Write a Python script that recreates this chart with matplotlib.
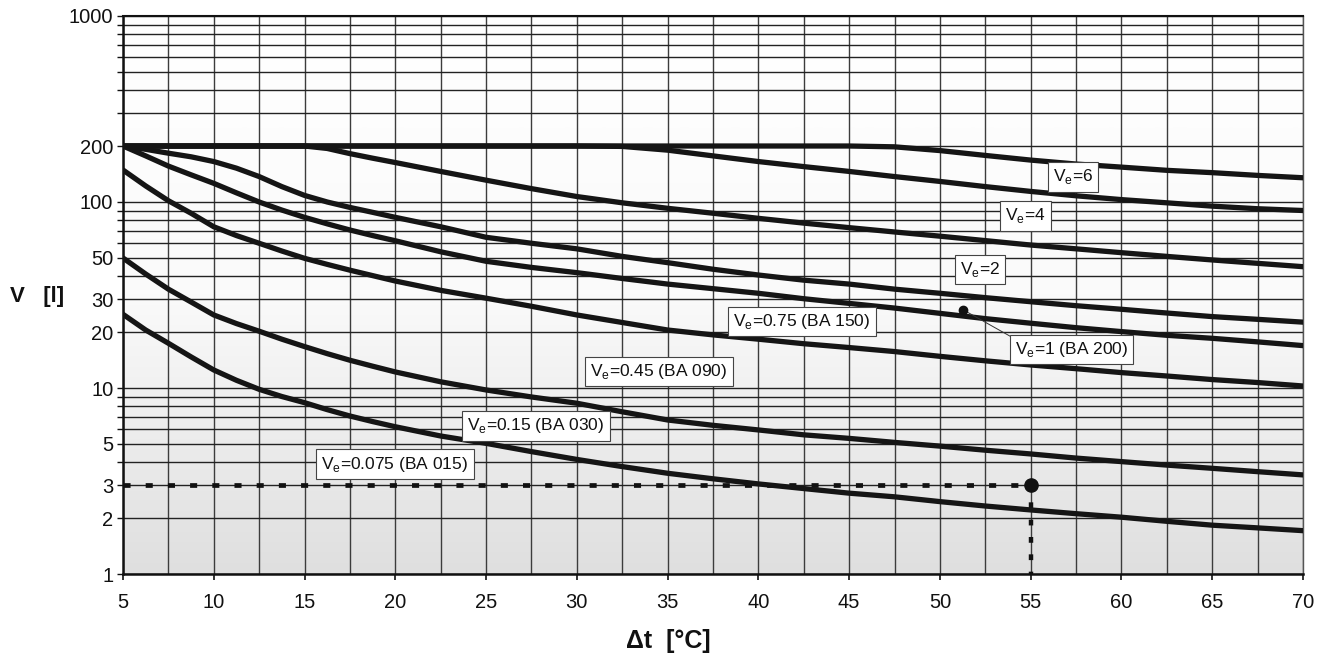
import numpy as np
import matplotlib
matplotlib.use("Agg")
import matplotlib.pyplot as plt
from matplotlib.colors import LinearSegmentedColormap

plt.rcParams['font.family'] = ['Liberation Sans', 'DejaVu Sans']
plt.rcParams['mathtext.fontset'] = 'custom'
plt.rcParams['mathtext.rm'] = 'Liberation Sans'

# ---------------- data ----------------
dt = [5, 6.25, 7.5, 8.75, 10, 11.25, 12.5, 13.75, 15, 16.25, 17.5, 18.75, 20,
      22.5, 25, 27.5, 30, 32.5, 35, 37.5, 40, 42.5, 45, 47.5, 50, 52.5, 55,
      57.5, 60, 62.5, 65, 67.5, 70]

v_e6 = [200, 200, 200, 200, 200, 200, 200, 200, 200, 200, 200, 200, 200,
        200, 200, 200, 200, 200, 200, 200, 200, 200, 200, 198, 189, 178, 168,
        160, 154, 148, 143.8, 139, 135]
v_e4 = [200, 200, 200, 200, 200, 200, 200, 200, 200, 200, 200, 200, 200,
        200, 200, 200, 200, 199, 190, 177, 165, 155, 146, 137, 129, 121, 114,
        108, 103, 99, 95, 92, 90]
v_e2 = [200, 200, 200, 200, 200, 200, 200, 200, 200, 194, 182, 172, 163,
        146, 131, 118, 107, 99, 92.5, 87, 81.7, 77, 72.8, 69, 65.5, 62, 58.7,
        56, 53.4, 51, 48.8, 46.8, 44.9]
v_e1 = [200, 192, 183, 175, 165, 152, 137, 121, 108.5, 100, 93.5, 88, 82.7,
        73.6, 64.6, 60, 56, 51, 47.2, 43.5, 40.5, 38, 36.2, 34, 32.3, 30.6, 29.1,
        27.7, 26.5, 25.3, 24.2, 23.4, 22.6]
v_e075 = [200, 177, 156, 140, 126, 112, 100, 90.5, 82.7, 76.3, 70.7, 66, 61.9,
          54, 48, 44.5, 41.7, 38.8, 36.2, 34.2, 32.3, 30.2, 28.5, 26.9, 25.2, 23.6, 22.3,
          21.1, 20.1, 19.2, 18.5, 17.7, 16.9]
v_e045 = [148.6, 122, 101.6, 87, 73.6, 66, 60, 54.5, 49.8, 46.2, 43, 40.2, 37.6,
          33.5, 30.4, 27.5, 24.7, 22.5, 20.5, 19.3, 18.3, 17.3, 16.5, 15.7, 14.8, 14.0, 13.3,
          12.7, 12.1, 11.6, 11.1, 10.7, 10.25]
v_e015 = [50, 41, 34, 29, 24.7, 22.2, 20.2, 18.3, 16.7, 15.3, 14.1, 13.1, 12.2,
          10.8, 9.76, 8.95, 8.28, 7.45, 6.73, 6.3, 5.95, 5.6, 5.36, 5.1, 4.87, 4.63, 4.42,
          4.2, 4.02, 3.85, 3.70, 3.55, 3.41]
v_e0075 = [24.9, 20.5, 17.4, 14.7, 12.5, 11.0, 9.84, 9.0, 8.34, 7.65, 7.07, 6.6, 6.19,
           5.52, 5.04, 4.55, 4.13, 3.78, 3.48, 3.25, 3.05, 2.88, 2.72, 2.6, 2.45, 2.32, 2.21,
           2.11, 2.02, 1.92, 1.83, 1.77, 1.71]

curve_labels = [r'V$_{\mathregular{e}}$=6', r'V$_{\mathregular{e}}$=4', r'V$_{\mathregular{e}}$=2',
                r'V$_{\mathregular{e}}$=1 (BA 200)', r'V$_{\mathregular{e}}$=0.75 (BA 150)',
                r'V$_{\mathregular{e}}$=0.45 (BA 090)', r'V$_{\mathregular{e}}$=0.15 (BA 030)',
                r'V$_{\mathregular{e}}$=0.075 (BA 015)']
curves = [v_e6, v_e4, v_e2, v_e1, v_e075, v_e045, v_e015, v_e0075]

# example reading
ex_dt = 55
ex_v = 3

x_ticks = [5, 10, 15, 20, 25, 30, 35, 40, 45, 50, 55, 60, 65, 70]
y_ticks = [1, 2, 3, 5, 10, 20, 30, 50, 100, 200, 1000]
y_tick_labels = ['1', '2', '3', '5', '10', '20', '30', '50', '100', '200', '1000']
y_minor = [4, 6, 7, 8, 9, 40, 60, 70, 80, 90, 300, 400, 500, 600, 700, 800, 900]
x_minor = [7.5, 12.5, 17.5, 22.5, 27.5, 32.5, 37.5, 42.5, 47.5, 52.5, 57.5, 62.5, 67.5]

# label positions (data coords)
label_pos = [(57.33, 136.3), (54.71, 84.1), (52.21, 43.4), (57.25, 16.1),
             (42.40, 22.8), (34.52, 12.3), (27.75, 6.25), (19.98, 3.90)]
pointer_dot = (51.29, 26.3)
pointer_end = (53.86, 19.0)

# ---------------- figure ----------------
W, H = 1328, 653
fig = plt.figure(figsize=(W / 100, H / 100), dpi=100)
pos = [123 / W, (H - 574) / H, (1303 - 123) / W, (574 - 16) / H]

bg = fig.add_axes(pos, zorder=0)
cmap = LinearSegmentedColormap.from_list('g', ['#dfdfdf', '#fafafa', '#ffffff'])
bg.imshow(np.linspace(0, 1, 512).reshape(-1, 1), cmap=cmap, aspect='auto',
          extent=[0, 1, 0, 1], origin='lower', interpolation='bilinear')
bg.axis('off')

ax = fig.add_axes(pos, zorder=1)
ax.set_facecolor('none')
ax.set_yscale('log')
ax.set_xlim(5, 70)
ax.set_ylim(1, 1000)

ax.set_xticks(x_ticks)
ax.set_xticks(x_minor, minor=True)
ax.set_xticklabels([str(t) for t in x_ticks])
ax.set_yticks(y_ticks)
ax.set_yticklabels(y_tick_labels)
ax.set_yticks(y_minor, minor=True)
ax.yaxis.set_minor_formatter(matplotlib.ticker.NullFormatter())

ax.tick_params(axis='x', which='major', length=4, width=1.2, pad=10,
               labelsize=14.5, colors='#111')
ax.tick_params(axis='x', which='minor', length=0)
ax.tick_params(axis='y', which='both', length=4, width=1.0, pad=3,
               labelsize=14.5, colors='#111')

ax.grid(True, which='both', axis='x', color='#3c3c3c', lw=1.0, zorder=1)
ax.grid(True, which='both', axis='y', color='#222222', lw=1.0, zorder=1)
ax.set_axisbelow(True)

for s in ['left', 'bottom']:
    ax.spines[s].set_linewidth(1.8)
    ax.spines[s].set_color('#111')
ax.spines['top'].set_linewidth(1.5)
ax.spines['top'].set_color('#111')
ax.spines['right'].set_linewidth(1.0)
ax.spines['right'].set_color('#555')

# dotted example lines
ax.plot([dt[0], ex_dt - 0.4], [ex_v, ex_v], color='#111', lw=3.4,
        linestyle=(0, (1.5, 3.2)), dash_capstyle='butt', zorder=2.5)
ax.plot([ex_dt, ex_dt], [ex_v, 1], color='#111', lw=3.2,
        linestyle=(0, (1.3, 2.6)), dash_capstyle='butt', zorder=2.5)
ax.plot([ex_dt], [ex_v], 'o', color='#111', ms=9.5, zorder=4)

# curves
for c in curves:
    ax.plot(dt, c, color='#151515', lw=3.8, solid_joinstyle='round',
            solid_capstyle='round', zorder=3)

# labels
for (lx, ly), txt in zip(label_pos, curve_labels):
    ax.text(lx, ly, txt, ha='center', va='center', fontsize=12.5, color='#111',
            zorder=6, bbox=dict(boxstyle='square,pad=0.3', fc='white',
                                ec='#444', lw=0.8))

ax.plot([pointer_dot[0], pointer_end[0]], [pointer_dot[1], pointer_end[1]],
        color='#333', lw=0.7, zorder=5)
ax.plot([pointer_dot[0]], [pointer_dot[1]], 'o', color='#111', ms=6, zorder=5)

fig.text(37.5 / W, 1 - 297 / H, 'V   [l]', ha='center', va='center',
         fontsize=16, fontweight='bold', color='#111')
fig.text(668 / W, 1 - 641 / H, 'Δt  [°C]', ha='center', va='center',
         fontsize=18, fontweight='bold', color='#111')

fig.savefig('out.png', dpi=100)
